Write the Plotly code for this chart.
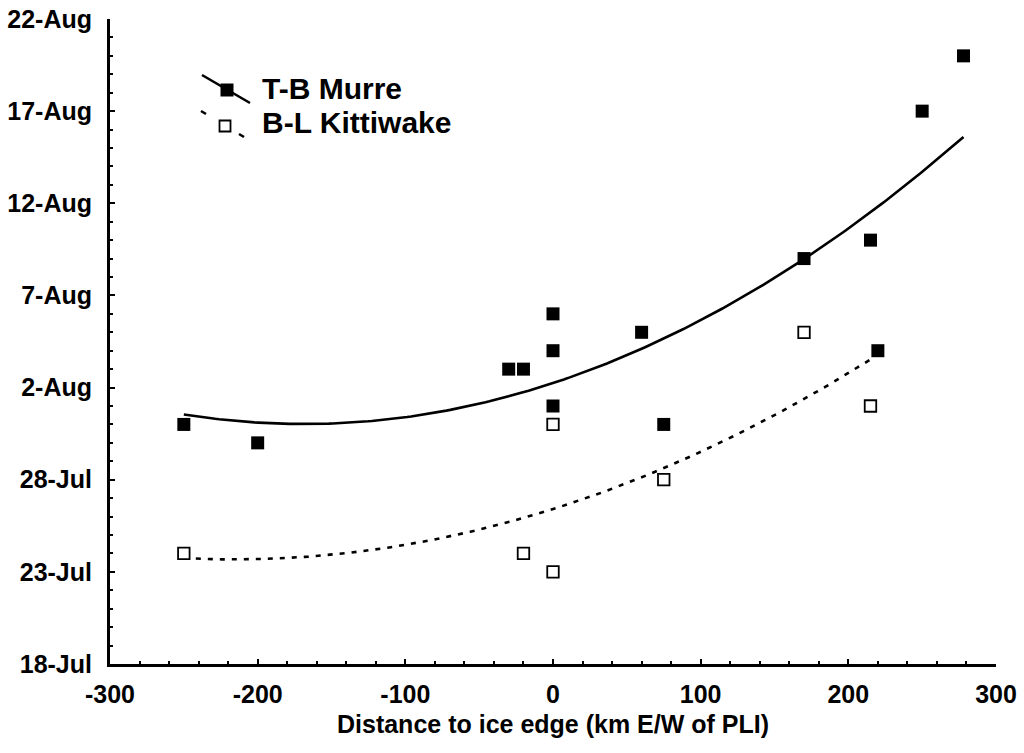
import numpy as np
import pandas as pd
import plotly.graph_objects as go

# ---- data ----
murre_x = [-250, -200, -30, -20, 0, 0, 0, 60, 75, 170, 215, 220, 250, 278]
murre_dates = ["31-Jul", "30-Jul", "3-Aug", "3-Aug", "6-Aug", "4-Aug", "1-Aug",
               "5-Aug", "31-Jul", "9-Aug", "10-Aug", "4-Aug", "17-Aug", "20-Aug"]
kitti_x = [-250, -20, 0, 0, 75, 170, 215]
kitti_dates = ["24-Jul", "24-Jul", "23-Jul", "31-Jul", "28-Jul", "5-Aug", "1-Aug"]

series_names = ["T-B Murre", "B-L Kittiwake"]
x_title = "Distance to ice edge (km E/W of PLI)"
x_tickvals = [-300, -200, -100, 0, 100, 200, 300]
x_ticktext = ["-300", "-200", "-100", "0", "100", "200", "300"]
YEAR = "2000"
y_start, y_end = "18-Jul", "22-Aug"


def to_dt(lst):
    return pd.to_datetime([d + "-" + YEAR for d in lst], format="%d-%b-%Y")


base = to_dt([y_start])[0]
top = to_dt([y_end])[0]


def quad_fit(xs, dts):
    days = np.array([(d - base).days for d in dts], dtype=float)
    coef = np.polyfit(np.array(xs, dtype=float), days, 2)
    xx = np.linspace(min(xs), max(xs), 200)
    yy = np.polyval(coef, xx)
    return xx, [base + pd.Timedelta(days=float(v)) for v in yy]


m_dt = to_dt(murre_dates)
k_dt = to_dt(kitti_dates)
mfx, mfy = quad_fit(murre_x, m_dt)
kfx, kfy = quad_fit(kitti_x, k_dt)

FONT = "Liberation Sans"

fig = go.Figure()
fig.add_trace(go.Scatter(x=mfx, y=mfy, mode="lines",
                         line=dict(color="black", width=2.6), showlegend=False))
fig.add_trace(go.Scatter(x=kfx, y=kfy, mode="lines",
                         line=dict(color="black", width=2.6, dash="5px,7px"), showlegend=False))
fig.add_trace(go.Scatter(x=murre_x, y=m_dt, mode="markers",
                         marker=dict(symbol="square", size=13, color="black"),
                         showlegend=False))
fig.add_trace(go.Scatter(x=kitti_x, y=k_dt, mode="markers",
                         marker=dict(symbol="square", size=11.5, color="white",
                                     line=dict(color="black", width=1.8)),
                         showlegend=False))

# ---- plot area geometry (pixels) ----
W, H = 1024, 753
L, R, T, B = 110, 28, 19, 89
pw, ph = W - L - R, H - T - B


def px(x):
    return (x - L) / pw


def py(y):
    return (H - B - y) / ph


shapes = []
# legend: murre
shapes.append(dict(type="line", xref="paper", yref="paper",
                   x0=px(202), y0=py(75), x1=px(250), y1=py(103),
                   line=dict(color="black", width=2.6)))
shapes.append(dict(type="rect", xref="paper", yref="paper",
                   x0=px(220.5), x1=px(233.5), y0=py(83.5), y1=py(96.5),
                   fillcolor="black", line=dict(width=0)))
# legend: kittiwake
shapes.append(dict(type="line", xref="paper", yref="paper",
                   x0=px(201), y0=py(111), x1=px(206), y1=py(114),
                   line=dict(color="black", width=2.6)))
shapes.append(dict(type="line", xref="paper", yref="paper",
                   x0=px(239), y0=py(134), x1=px(244), y1=py(137),
                   line=dict(color="black", width=2.6)))
shapes.append(dict(type="rect", xref="paper", yref="paper",
                   x0=px(219.5), x1=px(230.5), y0=py(120.5), y1=py(131.5),
                   fillcolor="white", line=dict(color="black", width=1.8)))

annotations = [
    dict(text=series_names[0], xref="paper", yref="paper", x=px(260), y=py(88),
         xanchor="left", yanchor="middle", showarrow=False,
         font=dict(family=FONT, size=30, color="black", weight="bold")),
    dict(text=series_names[1], xref="paper", yref="paper", x=px(260), y=py(122),
         xanchor="left", yanchor="middle", showarrow=False,
         font=dict(family=FONT, size=30, color="black", weight="bold")),
]

tickfont = dict(family=FONT, size=25, color="black", weight="bold")

fig.update_layout(
    width=W, height=H,
    margin=dict(l=L, r=R, t=T, b=B),
    paper_bgcolor="white", plot_bgcolor="white",
    shapes=shapes, annotations=annotations,
    showlegend=False,
)
fig.update_xaxes(
    range=[-300, 300], tickvals=x_tickvals, ticktext=x_ticktext,
    showgrid=False, zeroline=False, automargin=False,
    showline=True, linecolor="black", linewidth=3,
    ticks="inside", ticklen=5, tickwidth=2, tickcolor="black",
    minor=dict(dtick=20, tick0=-300, ticks="inside", ticklen=3, tickwidth=2,
               tickcolor="black", showgrid=False),
    tickfont=tickfont, ticklabelstandoff=6,
    title=dict(text=x_title, font=dict(family=FONT, size=25, color="black", weight="bold"),
               standoff=9),
)
fig.update_yaxes(
    type="date", range=[base, top],
    tick0=base, dtick=5 * 86400000, tickformat="%-d-%b",
    showgrid=False, zeroline=False, automargin=False,
    showline=True, linecolor="black", linewidth=3,
    ticks="inside", ticklen=5, tickwidth=2, tickcolor="black",
    minor=dict(dtick=86400000, ticks="inside", ticklen=3, tickwidth=2,
               tickcolor="black", showgrid=False),
    tickfont=tickfont, ticklabelstandoff=10,
)

fig.write_html("out.html")
